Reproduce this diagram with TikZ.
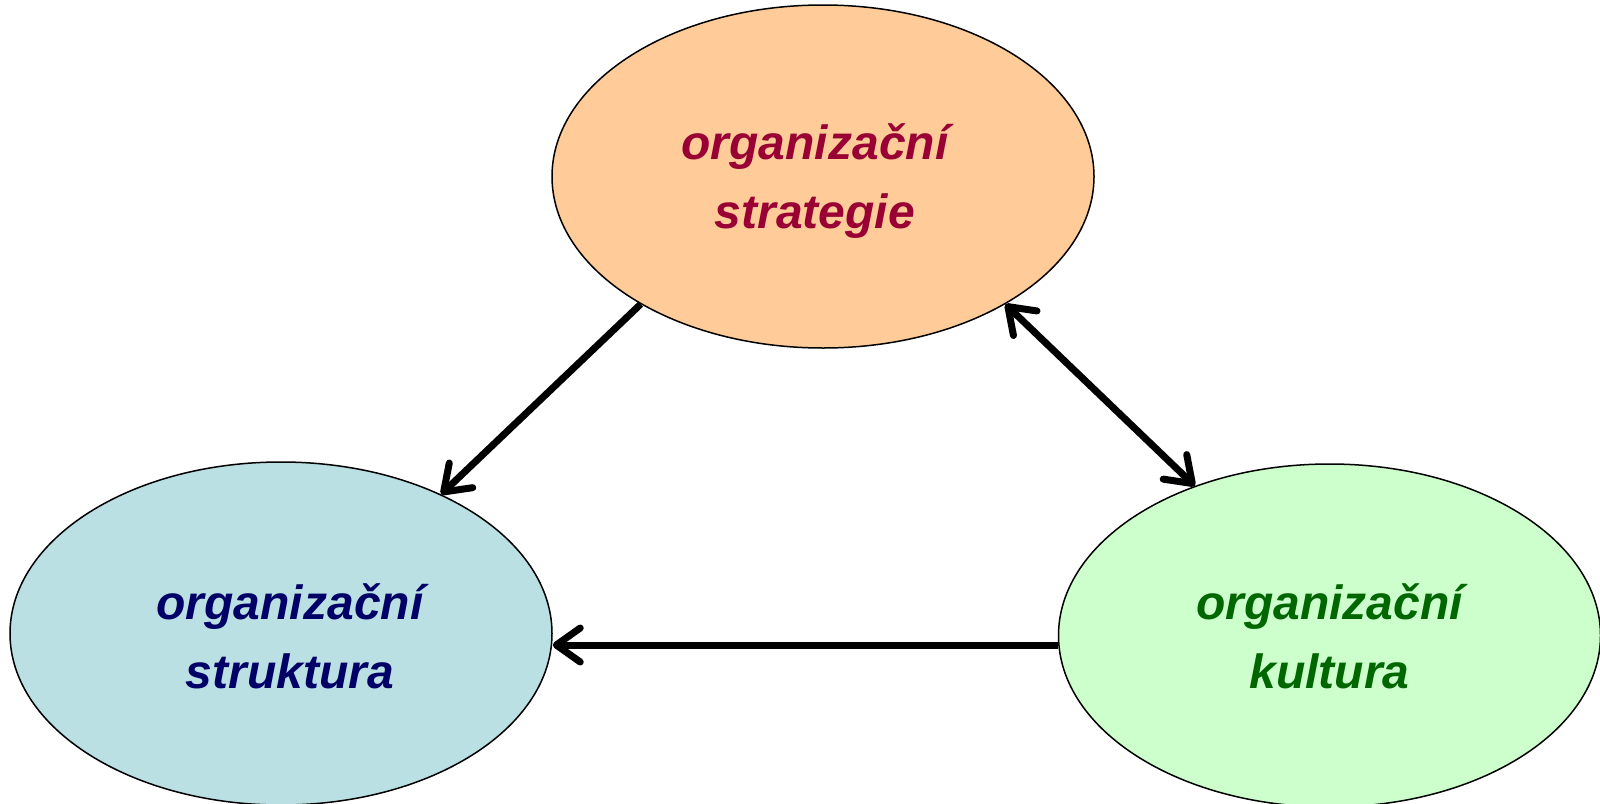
\documentclass[tikz,border=0pt]{standalone}
\usepackage{fontspec}
\setmainfont{Liberation Sans}
\usetikzlibrary{shapes.geometric,arrows.meta}
\definecolor{stratfill}{HTML}{FFCC99}
\definecolor{strattext}{HTML}{990033}
\definecolor{strukfill}{HTML}{BAE0E3}
\definecolor{struktext}{HTML}{000066}
\definecolor{kultfill}{HTML}{CCFFCC}
\definecolor{kulttext}{HTML}{006600}
\tikzset{
  blob/.style={ellipse, draw=black, line width=1.5pt, minimum width=542pt, minimum height=343pt,
    inner sep=0pt, align=center, text depth=0pt, font=\fontsize{48}{69}\selectfont\bfseries\itshape},
  barb/.tip={Straight Barb[length=24pt,width=34pt,round]},
  arr/.style={line width=7pt, -barb},
  dblarr/.style={line width=7pt, barb-barb}
}
\begin{document}
\begin{tikzpicture}[x=1pt,y=-1pt]
\useasboundingbox (0,0) rectangle (1600,803);
\node[blob, fill=stratfill, text=strattext, text height=103pt] (strat) at (823,176.5)
  {organizační\hspace*{16pt}\\strategie\hspace*{16pt}};
\node[blob, fill=strukfill, text=struktext, text height=109pt] (struk) at (281,633.5)
  {\hspace*{18pt}organizační\\\hspace*{18pt}struktura};
\node[blob, fill=kultfill, text=kulttext, text height=105pt] (kult) at (1329.5,635.5)
  {organizační\\kultura};
\draw[arr] (strat.215.5) -- (struk.41.4);
\draw[dblarr] (strat.325.3) -- (kult.132);
\draw[arr] ([yshift=-9.5pt]kult.west) -- ([yshift=-11.5pt]struk.east);
\end{tikzpicture}
\end{document}
